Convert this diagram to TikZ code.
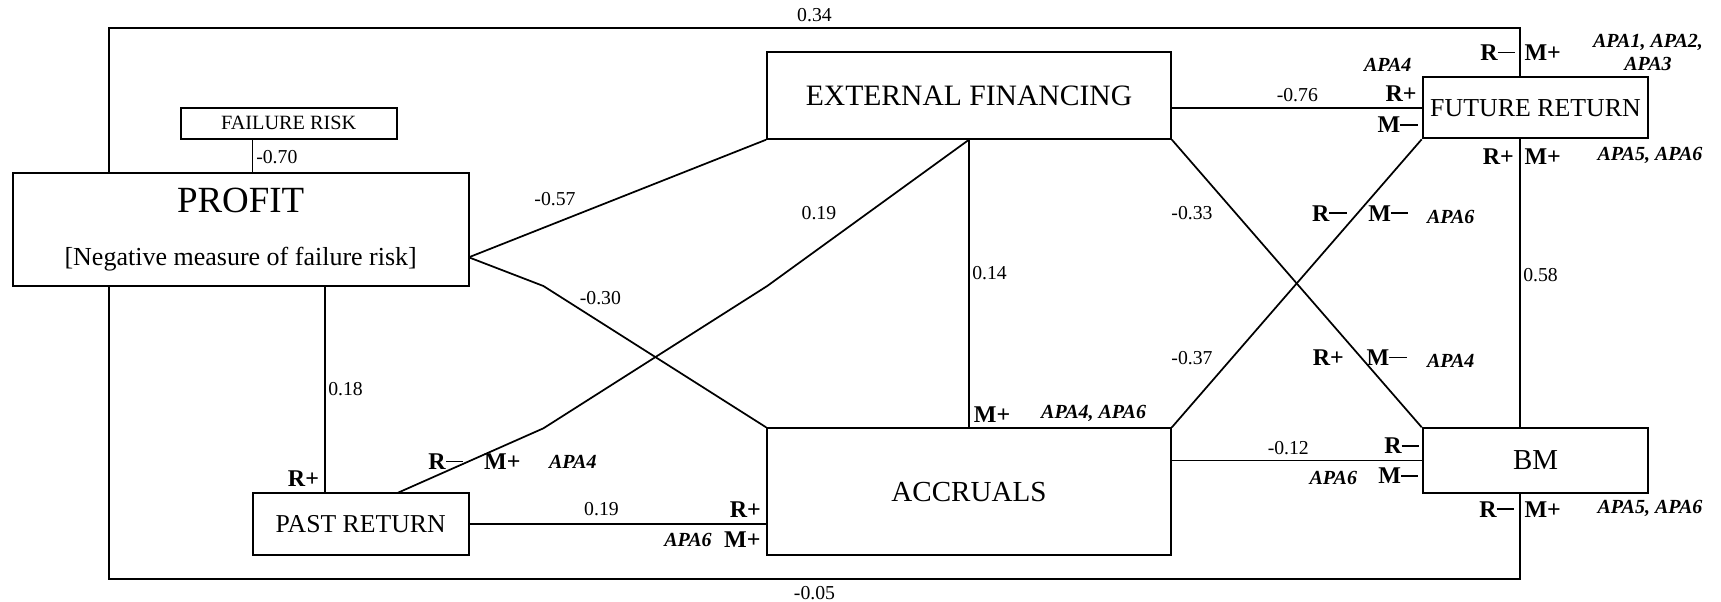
\documentclass[tikz,border=0pt]{standalone}
\usepackage{fontspec}
\setmainfont{Liberation Serif}
\usetikzlibrary{calc}
\newcommand{\minusbar}{\rule[0.3em]{0.72em}{0.075em}}
\tikzset{
  box/.style={draw,line width=1.5pt,inner sep=0pt,align=center},
  link/.style={line width=1.3pt},
  num/.style={font=\fontsize{14.8}{17}\selectfont,inner sep=0pt},
  sgn/.style={font=\fontsize{18}{20}\selectfont\bfseries,inner sep=0pt},
  apa/.style={font=\fontsize{15}{17.5}\selectfont\bfseries\itshape,inner sep=0pt,align=center},
}

\begin{document}
\begin{tikzpicture}[x=0.75pt,y=-0.75pt]
\useasboundingbox (0,0) rectangle (1721,601);
% constructs
\node[box,minimum width=342.15pt,minimum height=85pt,font=\fontsize{27.7}{40}\selectfont] (profit) at (240.7,229.35)
  {PROFIT\\{\fontsize{19.5}{40}\selectfont [Negative measure of failure risk]}};
\node[box,minimum width=162.15pt,minimum height=23.25pt,font=\fontsize{15.2}{17}\selectfont] (fail) at (288.7,123.2) {FAILURE RISK};
\node[box,minimum width=302.8pt,minimum height=64.8pt,font=\fontsize{22.2}{26}\selectfont] (ext) at (969,95.5) {EXTERNAL FINANCING};
\node[box,minimum width=302.8pt,minimum height=95pt,font=\fontsize{21.8}{26}\selectfont] (acc) at (969,491.65) {ACCRUALS};
\node[box,minimum width=162.15pt,minimum height=46.7pt,font=\fontsize{19.3}{23}\selectfont] (past) at (360.7,523.85) {PAST RETURN};
\node[box,minimum width=169.2pt,minimum height=45.75pt,font=\fontsize{19.4}{23}\selectfont] (fut) at (1535.5,107.8) {FUTURE RETURN};
\node[box,minimum width=169.2pt,minimum height=48.3pt,font=\fontsize{21.7}{26}\selectfont] (bm) at (1535.5,460.5) {BM};

% bends and frame corners
\coordinate (pe) at (468.8,257.3);
\coordinate (b1) at (543.4,286);
\coordinate (b2) at (543.4,428.3);
\coordinate (b3) at (767.2,286);
\coordinate (ps) at (398,492.7);
\coordinate (xfr) at (252.6,0);
\coordinate (xpp) at (324.9,0);
\coordinate (ftl) at (109,27.7);
\coordinate (fbr) at (1520,579.3);

% paths
\draw[link] (profit.north -| ftl) -- (ftl) -- node[num,above=4pt] (v34) {0.34} (ftl -| fbr) -- (fbr |- fut.north);
\draw[link] (profit.south -| ftl) -- (ftl |- fbr) -- node[num,below=5pt] (v05) {-0.05} (fbr) -- (fbr |- bm.south);
\draw[link] (xfr |- fail.south) -- (xfr |- profit.north);
\draw[link] (pe) -- (ext.south west);
\draw[link] (pe) -- (b1) -- (acc.north west);
\draw[link] (ps) -- (b2) -- (b3) -- (ext.south);
\draw[link] (ext.south) -- (acc.north);
\draw[link] (xpp |- profit.south) -- (xpp |- past.north);
\draw[link] (past.east) -- (past.east -| acc.west);
\draw[link] (fut.west -| ext.east) -- (fut.west);
\draw[link] (ext.south east) -- (bm.north west);
\draw[link] (acc.north east) -- (fut.south west);
\draw[link] (bm.west -| acc.east) -- (bm.west);
\draw[link] (fbr |- fut.south) -- (fbr |- bm.north);

% coefficients
\node[num,anchor=west] (v70) at (256,157) {-0.70};
\node[num] (v57) at (555,199) {-0.57};
\node[num] (v19a) at (818.9,213.3) {0.19};
\node[num,anchor=west] (v14) at (972,272.7) {0.14};
\node[num] (v30) at (600.4,298.5) {-0.30};
\node[num,anchor=west] (v18) at (328,389.3) {0.18};
\node[num] (v33) at (1192,213) {-0.33};
\node[num] (v37) at (1192,358) {-0.37};
\node[num] (v76) at (1297.3,95) {-0.76};
\node[num,anchor=west] (v58) at (1523,275) {0.58};
\node[num] (v19b) at (601.5,509.3) {0.19};
\node[num] (v12) at (1288.3,447.7) {-0.12};

% signs and anomalies
\node[sgn] (pastr) at (303.5,478.3) {R+};
\node[sgn] (dpr) at (445.8,461.7) {R\minusbar};
\node[sgn] (dpm) at (502.4,461.7) {M+};
\node[apa] (dpa) at (572.8,461.7) {APA4};
\node[sgn] (accr) at (745.4,509.3) {R+};
\node[sgn] (accm) at (742.3,540) {M+};
\node[apa] (acca) at (688,540) {APA6};
\node[sgn] (acctm) at (992,415) {M+};
\node[apa] (accta) at (1093.6,413.3) {APA4, APA6};
\node[apa] (futla) at (1387.7,65) {APA4};
\node[sgn] (futlr) at (1401,93.3) {R+};
\node[sgn] (futlm) at (1397.7,125) {M\minusbar};
\node[sgn] (futtr) at (1497.7,52.7) {R\minusbar};
\node[sgn] (futtm) at (1542.7,52.7) {M+};
\node[apa] (futta) at (1648,52.6) {APA1, APA2,\\APA3};
\node[sgn] (futbr) at (1498.3,156.7) {R+};
\node[sgn] (futbm) at (1542.7,156.7) {M+};
\node[apa] (futba) at (1650,155.7) {APA5, APA6};
\node[sgn] (dfr) at (1329.3,213.3) {R\minusbar};
\node[sgn] (dfm) at (1388.3,213.3) {M\minusbar};
\node[apa] (dfa) at (1450.7,216.7) {APA6};
\node[sgn] (dbr) at (1328.3,357.7) {R+};
\node[sgn] (dbm) at (1386.7,357.7) {M\minusbar};
\node[apa] (dba) at (1450.7,361) {APA4};
\node[sgn] (bmlr) at (1401.7,446) {R\minusbar};
\node[sgn] (bmlm) at (1398.3,476) {M\minusbar};
\node[apa] (bmla) at (1333.3,478.3) {APA6};
\node[sgn] (bmbr) at (1496.7,509.3) {R\minusbar};
\node[sgn] (bmbm) at (1542.7,509.3) {M+};
\node[apa] (bmba) at (1650,508.3) {APA5, APA6};
\end{tikzpicture}
\end{document}
